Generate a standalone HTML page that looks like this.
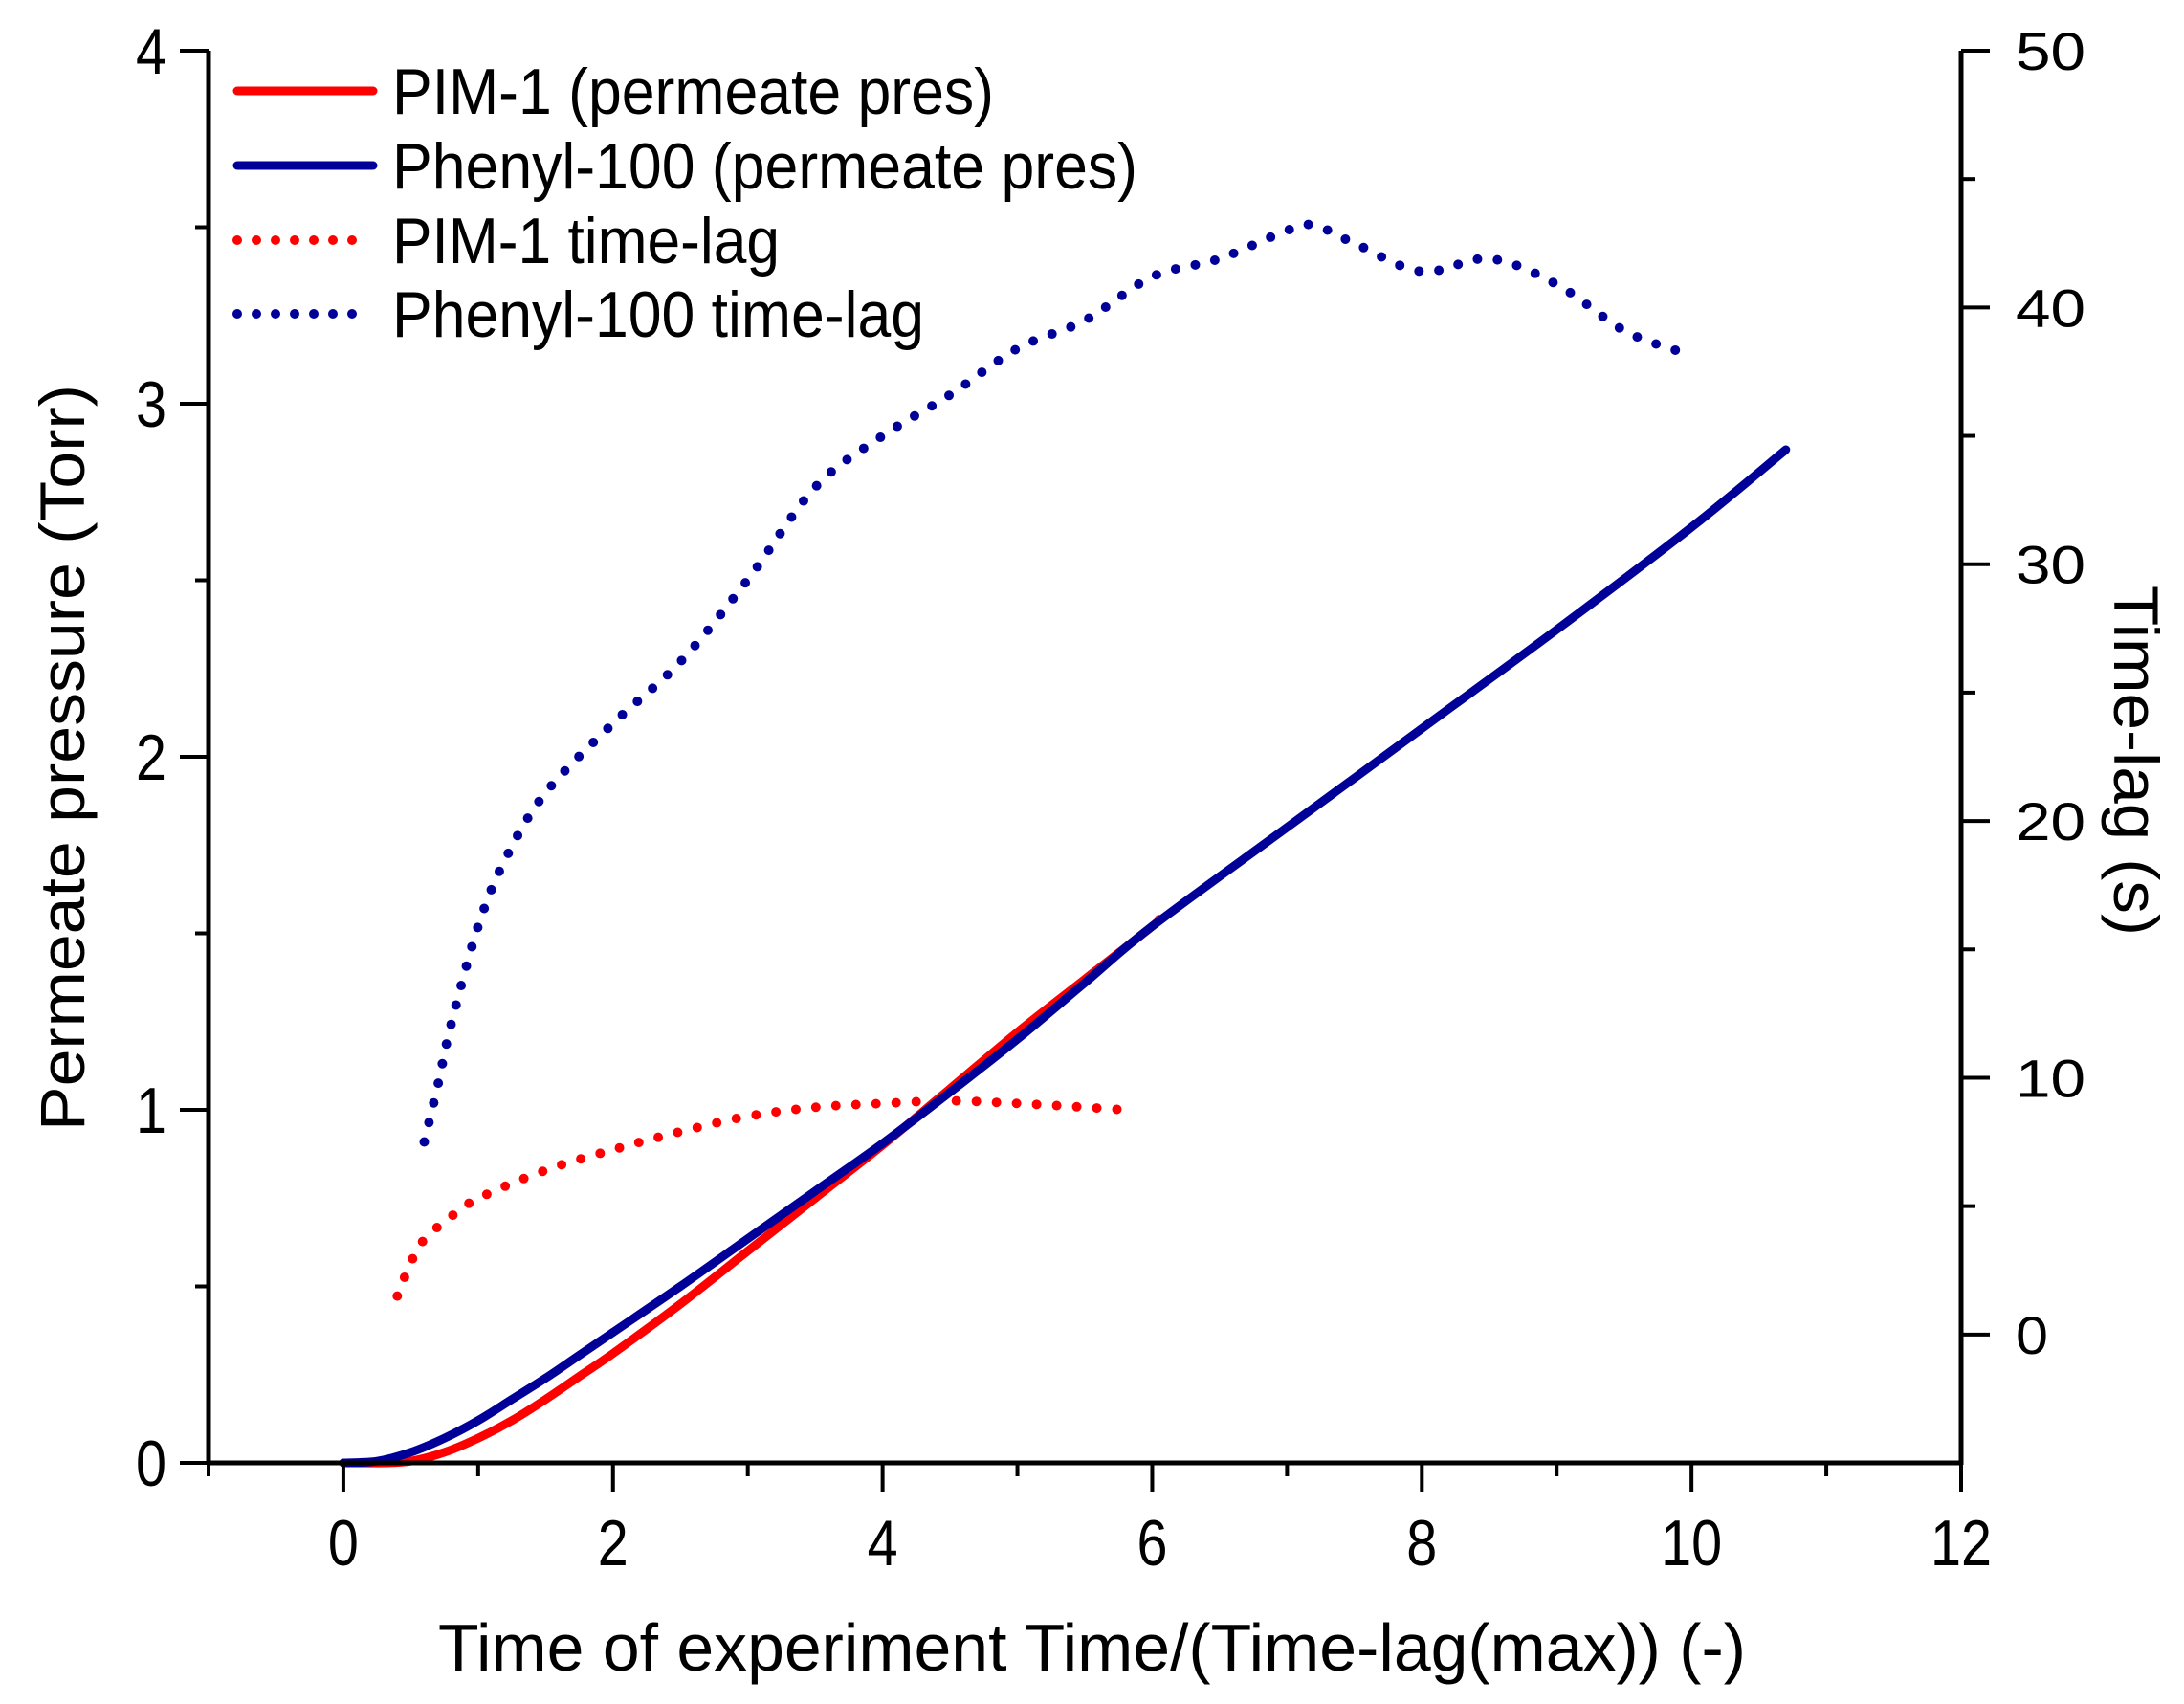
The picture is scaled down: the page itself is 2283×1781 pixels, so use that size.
<!DOCTYPE html>
<html><head><meta charset="utf-8"><style>
html,body{margin:0;padding:0;background:#fff;}
svg{display:block;font-family:"Liberation Sans",Arial,sans-serif;}
</style></head><body>
<svg id="chart" width="2283" height="1781" viewBox="0 0 2283 1781" xmlns="http://www.w3.org/2000/svg">
<rect width="2283" height="1781" fill="#fff"/>
<g id="plot"></g>
<g id="axes"></g>
<g id="legend"></g>
<text x="0" y="0" font-size="66" text-anchor="middle" textLength="780" lengthAdjust="spacingAndGlyphs" transform="translate(88,792) rotate(-90)">Permeate pressure (Torr)</text>
<text x="0" y="0" font-size="66" text-anchor="middle" textLength="366" lengthAdjust="spacingAndGlyphs" transform="translate(2210,795) rotate(90)">Time-lag (s)</text>
<text x="458" y="1746" font-size="70" textLength="1367" lengthAdjust="spacingAndGlyphs">Time of experiment Time/(Time-lag(max)) (-)</text>
</svg>
<script>
// ---- data ----
const pimPresX = [0, 0.3, 0.5, 0.75, 1, 1.25, 1.5, 1.75, 2, 2.5, 3, 3.5, 4, 4.5, 5, 5.5, 6, 6.05];
const pimPresY = [0, 0, 0.005, 0.03, 0.07, 0.12, 0.18, 0.245, 0.31, 0.45, 0.6, 0.75, 0.9, 1.06, 1.22, 1.37, 1.52, 1.54];
const phePresX = [0, 0.25, 0.5, 0.75, 1, 1.25, 1.5, 1.75, 2, 2.5, 3, 3.5, 4, 4.5, 5, 5.5, 6, 7, 8, 9, 10, 10.7];
const phePresY = [0, 0.005, 0.03, 0.07, 0.12, 0.18, 0.24, 0.305, 0.37, 0.5, 0.635, 0.77, 0.905, 1.05, 1.2, 1.36, 1.52, 1.8, 2.08, 2.36, 2.65, 2.87];
const pimLagX = [0.4, 0.5, 0.6, 0.8, 1, 1.5, 2, 2.5, 3, 3.5, 4, 4.5, 5, 5.5, 5.8];
const pimLagY = [1.5, 2.8, 3.7, 4.6, 5.3, 6.4, 7.2, 7.9, 8.5, 8.85, 9.0, 9.1, 9.0, 8.85, 8.75];
const pheLagX = [0.6, 0.7, 0.8, 1, 1.2, 1.5, 2, 2.5, 3, 3.5, 4, 4.5, 5, 5.5, 6, 6.5, 7, 7.2, 7.5, 8, 8.5, 9, 9.5, 9.9];
const pheLagY = [7.5, 9.7, 12.1, 15.9, 18.5, 21.1, 23.8, 26.2, 29.4, 33.0, 35.0, 36.6, 38.4, 39.5, 41.2, 41.9, 43.0, 43.2, 42.5, 41.4, 41.9, 40.9, 39.1, 38.3];
const xTicks = [0, 2, 4, 6, 8, 10, 12];
const yTicks = [0, 1, 2, 3, 4];
const y2Ticks = [0, 10, 20, 30, 40, 50];
const legendLabels = ["PIM-1 (permeate pres)", "Phenyl-100 (permeate pres)", "PIM-1 time-lag", "Phenyl-100 time-lag"];

// ---- scales ----
const L = 218, R = 2050, T = 53, B = 1529;
const xMin = -1, xMax = 12, yMin = 0, yMax = 4, y2Min = -5, y2Max = 50;
const sx = v => L + (v - xMin) / (xMax - xMin) * (R - L);
const sy = v => B - (v - yMin) / (yMax - yMin) * (B - T);
const sy2 = v => B - (v - y2Min) / (y2Max - y2Min) * (B - T);
const NS = "http://www.w3.org/2000/svg";
const plot = document.getElementById('plot');
const axes = document.getElementById('axes');
const legend = document.getElementById('legend');
function mk(tag, attrs, parent) {
  const e = document.createElementNS(NS, tag);
  for (const k in attrs) e.setAttribute(k, attrs[k]);
  parent.appendChild(e);
  return e;
}
const RED = "#ff0000", BLUE = "#000099";
function smoothPath(pts) {
  let d = 'M' + pts[0][0].toFixed(1) + ',' + pts[0][1].toFixed(1);
  for (let i = 0; i < pts.length - 1; i++) {
    const p0 = pts[i - 1] || pts[i], p1 = pts[i], p2 = pts[i + 1], p3 = pts[i + 2] || p2;
    const c1x = p1[0] + (p2[0] - p0[0]) / 6, c1y = p1[1] + (p2[1] - p0[1]) / 6;
    const c2x = p2[0] - (p3[0] - p1[0]) / 6, c2y = p2[1] - (p3[1] - p1[1]) / 6;
    d += ' C' + c1x.toFixed(1) + ',' + c1y.toFixed(1) + ' ' + c2x.toFixed(1) + ',' + c2y.toFixed(1) + ' ' + p2[0].toFixed(1) + ',' + p2[1].toFixed(1);
  }
  return d;
}
function series(xs, ys, yf, color, dotted, name) {
  const pts = xs.map((x, i) => [sx(x), yf(ys[i])]);
  const p = mk('path', {d: smoothPath(pts), fill: 'none', stroke: color, 'stroke-width': dotted ? 10 : 9,
    'stroke-linecap': 'round', 'stroke-linejoin': 'round'}, plot);
  if (dotted) p.setAttribute('stroke-dasharray', '0 21');
  
  
}
series(pheLagX, pheLagY, sy2, BLUE, true, 'phenyl-100-time-lag-line');
series(pimLagX, pimLagY, sy2, RED, true, 'pim-1-time-lag-line');
series(pimPresX, pimPresY, sy, RED, false, 'pim-1-pressure-line');
series(phePresX, phePresY, sy, BLUE, false, 'phenyl-100-pressure-line');

// ---- axes ----
const aw = 5;
let e;
e = mk('line', {x1: L, y1: T, x2: L, y2: B + 2, stroke: '#000', 'stroke-width': aw}, axes);


e = mk('line', {x1: R, y1: T, x2: R, y2: B + 2, stroke: '#000', 'stroke-width': aw}, axes);


e = mk('line', {x1: L - 2, y1: B, x2: R + 2, y2: B, stroke: '#000', 'stroke-width': aw}, axes);


for (let v = xMin; v <= xMax; v++) {
  const major = xTicks.indexOf(v) >= 0;
  e = mk('line', {x1: sx(v), y1: B, x2: sx(v), y2: B + (major ? 30 : 14), stroke: '#000', 'stroke-width': 4}, axes);
  
  
}
xTicks.forEach(v => {
  e = mk('text', {x: sx(v), y: 1636, 'font-size': 68, 'text-anchor': 'middle', textLength: String(v).length * 32, lengthAdjust: 'spacingAndGlyphs'}, axes);
  e.textContent = v;
  
  
});
for (let v = 0; v <= 4; v += 0.5) {
  const major = v % 1 === 0;
  e = mk('line', {x1: L - (major ? 30 : 14), y1: sy(v), x2: L, y2: sy(v), stroke: '#000', 'stroke-width': 4}, axes);
  
  
}
yTicks.forEach(v => {
  e = mk('text', {x: 174, y: sy(v) + 24, 'font-size': 68, 'text-anchor': 'end', textLength: 32, lengthAdjust: 'spacingAndGlyphs'}, axes);
  e.textContent = v;
  
  
});
for (let v = 0; v <= 50; v += 5) {
  const major = v % 10 === 0;
  e = mk('line', {x1: R, y1: sy2(v), x2: R + (major ? 30 : 15), y2: sy2(v), stroke: '#000', 'stroke-width': 4}, axes);
  
  
}
y2Ticks.forEach(v => {
  e = mk('text', {x: 2107, y: sy2(v) + 20, 'font-size': 56, 'text-anchor': 'start', 'textLength': v === 0 ? 34 : 73, 'lengthAdjust': 'spacingAndGlyphs'}, axes);
  e.textContent = v;
  
  
});

// ---- legend ----
const legColors = [RED, BLUE, RED, BLUE];
const legDotted = [false, false, true, true];
const legY = [95, 173, 251, 328];
const legW = [629, 779, 405, 556];
legendLabels.forEach((lab, i) => {
  e = mk('line', {x1: 248, y1: legY[i], x2: legDotted[i] ? 382 : 390, y2: legY[i], stroke: legColors[i],
    'stroke-width': legDotted[i] ? 10 : 9, 'stroke-linecap': 'round'}, legend);
  if (legDotted[i]) e.setAttribute('stroke-dasharray', '0 20');
  
  
  e = mk('text', {x: 410, y: legY[i] + 24, 'font-size': 68, textLength: legW[i], lengthAdjust: 'spacingAndGlyphs'}, legend);
  e.textContent = lab;
  
  
});
</script>
</body></html>
